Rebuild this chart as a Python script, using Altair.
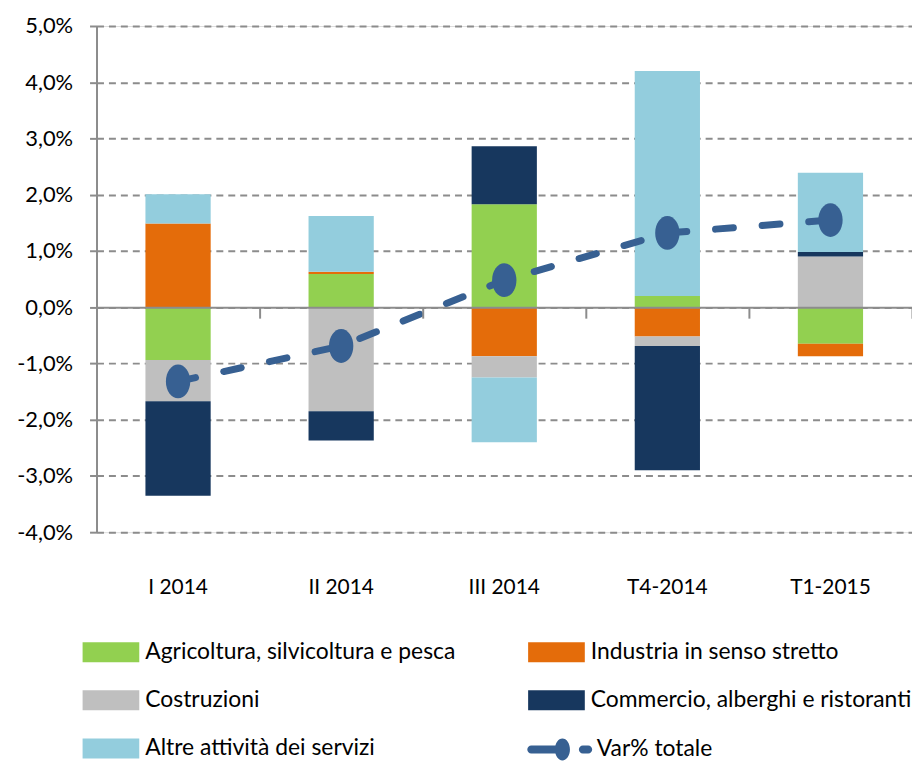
import altair as alt
import pandas as pd

quarters = ["I 2014", "II 2014", "III 2014", "T4-2014", "T1-2015"]
sectors = [
    "Agricoltura, silvicoltura e pesca",
    "Industria in senso stretto",
    "Costruzioni",
    "Commercio, alberghi e ristoranti",
    "Altre attività dei servizi",
]
total_name = "Var% totale"
agricoltura = [-0.94, 0.59, 1.83, 0.20, -0.65]
industria = [1.49, 0.04, -0.87, -0.52, -0.22]
costruzioni = [-0.73, -1.85, -0.38, -0.17, 0.90]
commercio = [-1.68, -0.52, 1.03, -2.21, 0.08]
altre = [0.52, 0.99, -1.15, 4.00, 1.41]
totale = [-1.32, -0.69, 0.48, 1.32, 1.55]
y_ticks = [-4, -3, -2, -1, 0, 1, 2, 3, 4, 5]

colors = ["#92D050", "#E46C0A", "#BFBFBF", "#17375E", "#93CDDD"]
line_color = "#376092"

series = [agricoltura, industria, costruzioni, commercio, altre]
rows = []
for si, (name, vals) in enumerate(zip(sectors, series)):
    for q, v in zip(quarters, vals):
        rows.append({"quarter": q, "sector": name, "value": v, "idx": si})
bars_df = pd.DataFrame(rows)
tot_df = pd.DataFrame({"quarter": quarters, "total": totale, "serie": [total_name] * len(quarters)})

FONT = "Lato"
GRID = "#8c8c8c"

RECT_PATH = "M-2,-0.7H2V0.7H-2Z"
LINE_PATH = ("M-2.2,-0.28H-0.3V0.28H-2.2A0.28,0.28 0 0,1 -2.2,-0.28Z "
             "M0,-0.77A0.53,0.77 0 1,1 0,0.77A0.53,0.77 0 1,1 0,-0.77Z "
             "M1.44,-0.28H1.82A0.28,0.28 0 0,1 1.82,0.28H1.44A0.28,0.28 0 0,1 1.44,-0.28Z")
ELLIPSE = "M0,-1A0.72,1 0 1,1 0,1A0.72,1 0 1,1 0,-1Z"

xscale = alt.Scale(domain=quarters, paddingInner=0, paddingOuter=0)
yscale = alt.Scale(domain=[-4, 5], nice=False, zero=False)

H = 509
W = 820

yaxis = alt.Axis(
    values=y_ticks, labelExpr="datum.value + ',0%'", title=None,
    grid=True, gridColor=GRID, gridDash=[7, 5], gridWidth=2,
    domainColor=GRID, domainWidth=2, tickColor=GRID, tickWidth=2, tickSize=7,
    labelPadding=17, labelFont=FONT, labelFontSize=22, labelColor="#000000",
)

zero_axis = alt.Axis(
    orient="bottom", offset=-(H * 4 / 9), labels=False, title=None,
    domain=True, domainColor=GRID, domainWidth=2,
    ticks=True, tickBand="extent", tickSize=11, tickWidth=2, tickColor=GRID,
    grid=False, zindex=1,
)

label_axis = alt.Axis(
    orient="bottom", title=None, domain=False, ticks=False, grid=False,
    labelPadding=45, labelFont=FONT, labelFontSize=21, labelColor="#000000",
    labelAngle=0,
)

legend_common = dict(
    title=None, symbolSize=812, symbolStrokeWidth=0, symbolOpacity=1,
    labelFont=FONT, labelFontSize=23, labelColor="#000000",
    labelOffset=20, labelLimit=400,
)

color_legend = alt.Legend(
    orient="none", legendX=0, legendY=615, columns=2, direction="horizontal",
    symbolType=RECT_PATH, rowPadding=21.5, columnPadding=72, **legend_common,
)

line_legend = alt.Legend(
    orient="none", legendX=454, legendY=713, symbolType=LINE_PATH,
    symbolFillColor=line_color, **legend_common,
)

bars = alt.Chart(bars_df).mark_bar(width=alt.RelativeBandSize(band=0.4)).encode(
    x=alt.X("quarter:N", scale=xscale, axis=zero_axis, sort=quarters),
    y=alt.Y("value:Q", stack="zero", scale=yscale, axis=yaxis),
    color=alt.Color("sector:N", scale=alt.Scale(domain=sectors, range=colors),
                    legend=color_legend),
    order=alt.Order("idx:Q"),
)

line = alt.Chart(tot_df).mark_line(
    color=line_color, strokeWidth=7, strokeDash=[18, 29], strokeCap="round"
).encode(
    x=alt.X("quarter:N", scale=xscale, axis=label_axis, sort=quarters),
    y=alt.Y("total:Q", scale=yscale, axis=yaxis),
)

points = alt.Chart(tot_df).mark_point(
    shape=ELLIPSE, size=1156, filled=True, color=line_color, opacity=1
).encode(
    x=alt.X("quarter:N", scale=xscale, axis=None, sort=quarters),
    y=alt.Y("total:Q", scale=yscale, axis=yaxis),
)

legend_layer = alt.Chart(tot_df).mark_point(
    filled=True, color=line_color, opacity=0
).encode(
    x=alt.X("quarter:N", scale=xscale, axis=None, sort=quarters),
    y=alt.Y("total:Q", scale=yscale, axis=yaxis),
    shape=alt.Shape("serie:N", scale=alt.Scale(domain=[total_name], range=[LINE_PATH]),
                    legend=line_legend),
)

chart = alt.layer(bars, line, points, legend_layer).resolve_axis(x="independent").properties(
    width=W, height=H,
    autosize=alt.AutoSizeParams(type="none"),
    padding={"left": 89, "top": 16, "right": 0, "bottom": 230},
).configure_view(stroke=None).configure(font=FONT)

chart.save("out.html", embed_options={"renderer": "svg", "actions": False})
